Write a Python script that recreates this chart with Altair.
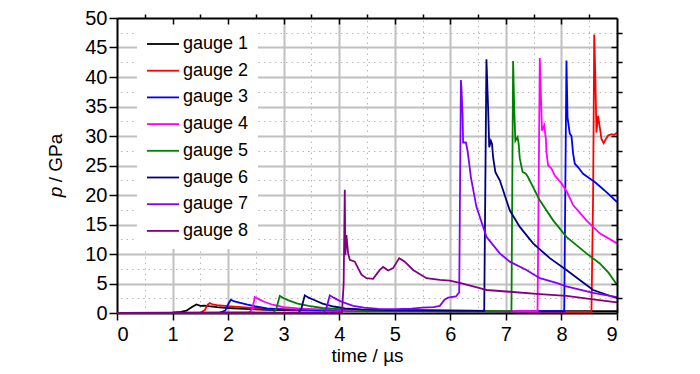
import altair as alt
import pandas as pd

FONT = "Liberation Sans, Arial, sans-serif"

gauges = ["gauge 1", "gauge 2", "gauge 3", "gauge 4", "gauge 5", "gauge 6", "gauge 7", "gauge 8"]
colors = ["#000000", "#ff0000", "#0000ff", "#ff00ff", "#008000", "#000080", "#8000ff", "#800080"]

g1_t = [0, 1.0, 1.15, 1.25, 1.35, 1.43, 1.5, 1.57, 1.65, 1.8, 2.0, 2.3, 2.7, 3.2, 4.0, 5.0, 6.0, 7.0, 8.0, 9.0]
g1_p = [0, 0.05, 0.2, 0.4, 1.0, 1.45, 1.2, 1.25, 1.15, 1.0, 0.85, 0.7, 0.55, 0.45, 0.4, 0.35, 0.3, 0.3, 0.3, 0.3]

g2_t = [0, 1.5, 1.58, 1.63, 1.67, 1.72, 1.8, 2.0, 2.3, 2.7, 3.2, 4.0, 5.0, 6.0, 7.0, 8.0, 8.54,
        8.57, 8.59, 8.61, 8.63, 8.66, 8.69, 8.72, 8.76, 8.80, 8.84, 8.9, 8.95, 9.0]
g2_p = [0, 0.05, 0.5, 1.4, 1.7, 1.45, 1.35, 1.15, 0.95, 0.7, 0.55, 0.45, 0.4, 0.35, 0.3, 0.2, 0.2,
        20, 47.2, 40, 30.6, 33.4, 31.5, 29.5, 28.8, 29.5, 30.1, 30.3, 30.2, 30.6]

g3_t = [0, 1.85, 1.95, 2.0, 2.05, 2.1, 2.2, 2.35, 2.5, 2.7, 3.0, 3.5, 4.0, 5.0, 6.0, 7.0, 8.05,
        8.09, 8.11, 8.15, 8.18, 8.21, 8.24, 8.30, 8.39, 8.51, 8.6, 8.7, 8.81, 8.9, 9.0]
g3_p = [0, 0.05, 0.4, 1.5, 2.25, 2.0, 1.75, 1.4, 1.1, 0.8, 0.6, 0.5, 0.45, 0.4, 0.35, 0.3, 0.3,
        42.8, 33.1, 30.4, 30.0, 27.0, 25.3, 24.7, 23.6, 22.8, 22.2, 21.4, 20.5, 19.7, 18.8]

g4_t = [0, 2.38, 2.44, 2.48, 2.55, 2.65, 2.8, 3.0, 3.3, 3.7, 4.2, 5.0, 6.0, 7.0, 7.57,
        7.61, 7.63, 7.65, 7.69, 7.72, 7.73, 7.76, 7.82, 7.88, 8.0, 8.1, 8.21, 8.45, 8.69, 9.0]
g4_p = [0, 0.05, 0.8, 2.7, 2.35, 1.9, 1.4, 1.0, 0.75, 0.6, 0.5, 0.45, 0.4, 0.35, 0.3,
        43.2, 37.0, 30.9, 31.8, 29.5, 27.3, 25.0, 24.5, 23.3, 22.0, 20.5, 18.3, 15.7, 13.5, 11.8]

g5_t = [0, 2.82, 2.87, 2.93, 3.0, 3.1, 3.25, 3.45, 3.7, 4.0, 4.5, 5.0, 6.0, 7.1,
        7.13, 7.15, 7.17, 7.21, 7.23, 7.25, 7.30, 7.36, 7.40, 7.61, 7.85, 8.09, 8.45, 8.69, 8.85, 9.0]
g5_p = [0, 0.05, 0.8, 2.9, 2.5, 2.1, 1.6, 1.2, 0.85, 0.65, 0.5, 0.5, 0.4, 0.3,
        42.7, 34.8, 29.2, 29.8, 28.7, 26.2, 23.9, 23.6, 23.0, 19.1, 15.7, 12.9, 10.1, 8.4, 6.8, 4.8]

g6_t = [0, 3.27, 3.32, 3.38, 3.45, 3.55, 3.7, 3.9, 4.1, 4.4, 5.0, 6.0, 6.61,
        6.65, 6.68, 6.70, 6.73, 6.75, 6.77, 6.81, 6.86, 6.89, 7.07, 7.25, 7.49, 7.79, 8.09, 8.33, 8.57, 9.0]
g6_p = [0, 0.05, 0.8, 3.0, 2.6, 2.2, 1.6, 1.1, 0.8, 0.6, 0.5, 0.4, 0.35,
        43.0, 34.8, 28.1, 29.2, 28.7, 26.4, 23.9, 23.0, 22.5, 17.4, 14.6, 11.8, 9.3, 7.3, 5.6, 3.9, 2.5]

g7_t = [0, 3.72, 3.77, 3.83, 3.9, 4.0, 4.1, 4.25, 4.45, 4.7, 5.0, 5.3, 5.5, 5.7, 5.81, 5.9, 5.96,
        6.1, 6.16, 6.19, 6.20, 6.22, 6.23, 6.28, 6.31, 6.34, 6.37, 6.47, 6.65, 6.89, 7.07, 7.37,
        7.61, 7.91, 8.09, 8.57, 9.0]
g7_p = [0, 0.05, 0.8, 3.0, 2.6, 2.1, 1.7, 1.2, 0.9, 0.7, 0.65, 0.75, 0.9, 1.0, 1.2, 2.3, 2.6,
        2.8, 3.5, 39.5, 38.2, 33.7, 28.9, 28.9, 27.5, 25.3, 23.0, 18.0, 12.9, 10.1, 8.7, 7.3,
        5.9, 5.1, 4.5, 3.4, 2.7]

g8_t = [0, 4.05, 4.08, 4.10, 4.11, 4.13, 4.16, 4.19, 4.28, 4.40, 4.49, 4.61, 4.73, 4.79, 4.88,
        4.97, 5.08, 5.18, 5.33, 5.57, 5.81, 5.99, 6.17, 6.53, 6.65, 7.07, 7.61, 8.09, 8.57, 9.0]
g8_p = [0, 0.1, 5.0, 20.9, 9.8, 13.2, 10.1, 9.0, 8.7, 6.5, 5.9, 5.8, 7.3, 7.8, 7.2,
        7.6, 9.3, 8.7, 7.3, 5.9, 5.6, 5.5, 5.1, 4.2, 3.9, 3.6, 3.2, 2.9, 2.3, 1.8]

x_ticks = [0, 1, 2, 3, 4, 5, 6, 7, 8, 9]
x_grid = [1, 2, 3, 4, 5, 6, 7, 8]
x_minor = [0.5, 1.5, 2.5, 3.5, 4.5, 5.5, 6.5, 7.5, 8.5]
y_ticks = [0, 5, 10, 15, 20, 25, 30, 35, 40, 45, 50]
y_grid = [5, 10, 15, 20, 25, 30, 35, 40, 45]
y_minor = [2.5, 7.5, 12.5, 17.5, 22.5, 27.5, 32.5, 37.5, 42.5, 47.5]

series = [(g1_t, g1_p), (g2_t, g2_p), (g3_t, g3_p), (g4_t, g4_p),
          (g5_t, g5_p), (g6_t, g6_p), (g7_t, g7_p), (g8_t, g8_p)]
rows = []
for name, (ts, ps) in zip(gauges, series):
    for t, p in zip(ts, ps):
        rows.append({"gauge": name, "time": t, "p": p})
df = pd.DataFrame(rows)
frame = pd.DataFrame({"time": [0, 9], "p": [0, 50]})

xs = alt.Scale(domain=[0, 9], nice=False, zero=False)
ys = alt.Scale(domain=[0, 50], nice=False)

# major grid
grid_major = alt.Chart(frame).mark_point(opacity=0).encode(
    x=alt.X("time:Q", scale=xs, axis=alt.Axis(values=x_grid, grid=True, gridColor="#c0c0c0", gridWidth=2,
                                               labels=False, ticks=False, domain=False, title=None)),
    y=alt.Y("p:Q", scale=ys, axis=alt.Axis(values=y_grid, grid=True, gridColor="#c0c0c0", gridWidth=2,
                                            labels=False, ticks=False, domain=False, title=None)),
)

# minor grid + minor ticks
grid_minor = alt.Chart(frame).mark_point(opacity=0).encode(
    x=alt.X("time:Q", scale=xs, axis=alt.Axis(values=x_minor, grid=True, gridColor="#b8b8b8", gridWidth=1,
                                               gridDash=[1.5, 4], labels=False, ticks=True, tickSize=4,
                                               tickColor="black", tickWidth=1.5, domain=False, title=None)),
    y=alt.Y("p:Q", scale=ys, axis=alt.Axis(values=y_minor, grid=True, gridColor="#b8b8b8", gridWidth=1,
                                            gridDash=[1.5, 4], labels=False, ticks=True, tickSize=5,
                                            tickColor="black", tickWidth=1.5, domain=False, title=None)),
)

lines = alt.Chart(df).mark_line(strokeWidth=1.8).encode(
    x=alt.X("time:Q", scale=xs, axis=alt.Axis(values=x_ticks, grid=False, tickSize=7, tickWidth=1.5,
                                               tickColor="black", domainColor="black", domainWidth=2,
                                               labelFont=FONT, labelFontSize=20, labelColor="black",
                                               labelPadding=4, title="time / µs", titleFont=FONT,
                                               titleFontSize=19, titleFontWeight="normal",
                                               titleColor="black", titlePadding=2)),
    y=alt.Y("p:Q", scale=ys, axis=alt.Axis(values=y_ticks, grid=False, tickSize=8, tickWidth=1.5,
                                            tickColor="black", domainColor="black", domainWidth=2,
                                            labelFont=FONT, labelFontSize=20, labelColor="black",
                                            labelPadding=2, title=None)),
    color=alt.Color("gauge:N", scale=alt.Scale(domain=gauges, range=colors),
                    legend=alt.Legend(title=None, orient="none", legendX=20, legendY=0,
                                      fillColor="white", padding=9, symbolType="stroke",
                                      symbolSize=1024, symbolStrokeWidth=1.8, labelFont=FONT,
                                      labelFontSize=18, labelColor="black", labelOffset=3,
                                      rowPadding=0.7)),
)

# top / right frame lines (drawn above the legend box)
frame_lines = alt.Chart(frame).mark_point(opacity=0).encode(
    x=alt.X("time:Q", scale=xs, axis=alt.Axis(orient="top", values=x_grid, labels=False, ticks=False,
                                               domainColor="black", domainWidth=2, grid=False, title=None,
                                               zindex=2)),
    y=alt.Y("p:Q", scale=ys, axis=alt.Axis(orient="right", values=y_grid, labels=False, ticks=False,
                                            domainColor="black", domainWidth=2, grid=False, title=None,
                                            zindex=2)),
)

# inward ticks on top / right
inner_ticks = alt.Chart(frame).mark_point(opacity=0).encode(
    x=alt.X("time:Q", scale=xs, axis=alt.Axis(orient="top", offset=-6, values=x_grid, labels=False,
                                               ticks=True, tickSize=6, tickWidth=1.5, tickColor="black",
                                               domain=False, grid=False, title=None, zindex=2)),
    y=alt.Y("p:Q", scale=ys, axis=alt.Axis(orient="right", offset=-6, values=y_grid, labels=False,
                                            ticks=True, tickSize=6, tickWidth=1.5, tickColor="black",
                                            domain=False, grid=False, title=None, zindex=2)),
)

ttl = pd.DataFrame({"a": [0]})
title_p = alt.Chart(ttl).mark_text(angle=270, align="center", baseline="alphabetic", font=FONT,
                                   fontSize=19, fontStyle="italic", color="black").encode(
    x=alt.value(-55), y=alt.value(174), text=alt.value("p"))
title_rest = alt.Chart(ttl).mark_text(angle=270, align="center", baseline="alphabetic", font=FONT,
                                      fontSize=19, color="black").encode(
    x=alt.value(-55), y=alt.value(140), text=alt.value("/ GPa"))

chart = alt.layer(grid_major, grid_minor, frame_lines, inner_ticks, lines, title_p, title_rest).resolve_axis(
    x="independent", y="independent"
).properties(
    width=500, height=295,
    autosize=alt.AutoSizeParams(type="none"),
    padding={"left": 109, "top": 10, "right": 75, "bottom": 53},
).configure_view(stroke=None)

chart.save("out.html", embed_options={"renderer": "svg", "actions": False})
